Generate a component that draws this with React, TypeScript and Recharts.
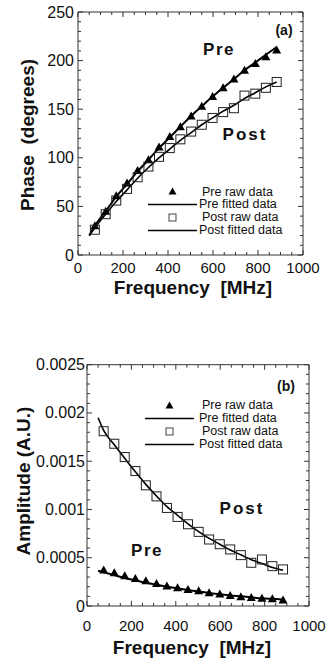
import React from "react";
import { ComposedChart, Line, XAxis, YAxis, Legend } from "recharts";

const FONT = "'Liberation Sans', Arial, Helvetica, sans-serif";

// frequencies (MHz) of the measured points and of the fitted curves
const freqRaw = [75, 123, 170, 218, 265, 313, 360, 408, 455, 503, 550, 598, 645, 693, 740, 788, 835, 883];
const freqFit = [50, 75, 123, 170, 218, 265, 313, 360, 408, 455, 503, 550, 598, 645, 693, 740, 788, 835, 883];

// (a) phase in degrees
const phasePreRaw = [30, 45, 61, 74, 87, 98, 111, 122, 132, 143, 153, 163, 172, 181, 190, 197, 204, 211];
const phasePostRaw = [26, 42, 56, 68, 80, 91, 101, 110, 119, 127, 134, 141, 147, 151, 164, 166, 172, 178];
const phasePreFit = [20, 30, 45, 60, 73, 86, 98, 110, 121, 132, 143, 153, 163, 172, 181, 190, 198, 206, 214];
const phasePostFit = [20, 28, 42, 55, 67, 79, 90, 100, 109, 118, 126, 134, 141, 148, 154, 161, 167, 173, 178];

// (b) amplitude in A.U.
const ampPreRaw = [0.000372, 0.000344, 0.000313, 0.000286, 0.000262, 0.000234, 0.000207, 0.000189, 0.000172, 0.000158, 0.000138, 0.000124, 0.00011, 0.000096, 0.000089, 0.000079, 0.000076, 0.000062];
const ampPostRaw = [0.001811, 0.001681, 0.001543, 0.001398, 0.00125, 0.001136, 0.001016, 0.000923, 0.000847, 0.000768, 0.000689, 0.00064, 0.000586, 0.000527, 0.000448, 0.000482, 0.000413, 0.000379];
const ampPreFit = [0.000365, 0.00035, 0.00032, 0.00029, 0.000265, 0.00024, 0.00022, 0.0002, 0.000182, 0.000165, 0.00015, 0.000135, 0.000122, 0.00011, 0.0001, 0.00009, 0.00008, 0.000074, 0.000068];
const ampPostFit = [0.00195, 0.00182, 0.00167, 0.00153, 0.00139, 0.00126, 0.00114, 0.00103, 0.00094, 0.00085, 0.00077, 0.0007, 0.00064, 0.00058, 0.00053, 0.00048, 0.00044, 0.0004, 0.00037];

// tick labels
const freqMajor = [0, 200, 400, 600, 800, 1000];
const freqLabels = ["0", "200", "400", "600", "800", "1000"];
const phaseMajor = [0, 50, 100, 150, 200, 250];
const phaseLabels = ["0", "50", "100", "150", "200", "250"];
const ampMajor = [0, 0.0005, 0.001, 0.0015, 0.002, 0.0025];
const ampLabels = ["0", "0.0005", "0.001", "0.0015", "0.002", "0.0025"];

const legendItems = ["Pre raw data", "Pre fitted data", "Post raw data", "Post fitted data"];

// minor tick positions (every 50 MHz, 10 deg, 0.0001 A.U.)
const freqTicks = Array.from({ length: 21 }, (_, i) => i * 50);
const phaseTicks = Array.from({ length: 26 }, (_, i) => i * 10);
const ampTicks = Array.from({ length: 26 }, (_, i) => i / 10000);

const rows = (xs: number[], ys: number[]) => xs.map((f, i) => ({ f, v: ys[i] }));

const FRAME = "#333";

function makeTick(side: string, majors: number[], labels?: string[], labelOffset = 0, fontSize = 15) {
  return (props: any) => {
    const { x, y, payload } = props;
    const v = payload.value;
    const idx = majors.findIndex((m) => Math.abs(m - v) < 1e-9);
    const len = idx >= 0 ? 5 : 3;
    let line = null;
    let label = null;
    if (side === "bottom") {
      line = <line x1={x} y1={y} x2={x} y2={y - len} stroke={FRAME} />;
      if (labels && idx >= 0)
        label = (
          <text x={x} y={y + labelOffset} textAnchor="middle" dominantBaseline="central" fontSize={fontSize} fontFamily={FONT} fill="#111">
            {labels[idx]}
          </text>
        );
    } else if (side === "top") {
      line = <line x1={x} y1={y} x2={x} y2={y + len} stroke={FRAME} />;
    } else if (side === "left") {
      line = <line x1={x} y1={y} x2={x + len} y2={y} stroke={FRAME} />;
      if (labels && idx >= 0)
        label = (
          <text x={x - labelOffset} y={y} textAnchor="end" dominantBaseline="central" fontSize={fontSize} fontFamily={FONT} fill="#111">
            {labels[idx]}
          </text>
        );
    } else {
      line = <line x1={x} y1={y} x2={x - len} y2={y} stroke={FRAME} />;
    }
    return (
      <g>
        {line}
        {label}
      </g>
    );
  };
}

const renderTri = (p: any) => {
  const { cx, cy } = p;
  if (cx == null || cy == null) return <g key={p.index} />;
  return <polygon key={p.index} points={`${cx},${cy - 4.5} ${cx - 4.5},${cy + 3.5} ${cx + 4.5},${cy + 3.5}`} fill="#000" />;
};

const renderSquare = (p: any) => {
  const { cx, cy } = p;
  if (cx == null || cy == null) return <g key={p.index} />;
  return <rect key={p.index} x={cx - 4.5} y={cy - 4.5} width={9} height={9} fill="none" stroke="#222" strokeWidth={1} />;
};

function LegendBox({ rowH, textGap }: { rowH: number; textGap: number }) {
  const marker = (i: number) => {
    if (i === 0) return <polygon points="24.5,2.5 20.5,9.5 28.5,9.5" fill="#000" />;
    if (i === 2) return <rect x={21} y={3} width={7} height={7} fill="#fff" stroke="#444" />;
    return <line x1={0} y1={6.5} x2={49} y2={6.5} stroke="#000" strokeWidth={1.5} />;
  };
  return (
    <div style={{ fontFamily: FONT, fontSize: 12.5, color: "#111" }}>
      {legendItems.map((t, i) => (
        <div key={t} style={{ display: "flex", alignItems: "center", height: rowH, whiteSpace: "nowrap" }}>
          <svg width={49} height={13} style={{ flex: "none" }}>
            {marker(i)}
          </svg>
          <span style={{ marginLeft: i % 2 === 0 ? textGap + 3 : textGap, lineHeight: `${rowH}px` }}>{t}</span>
        </div>
      ))}
    </div>
  );
}

const txt = (s: string, left: number, top: number, size: number, extra: any = {}) => (
  <div
    style={{
      position: "absolute",
      left,
      top,
      transform: "translate(-50%, -50%)",
      fontFamily: FONT,
      fontWeight: "bold",
      fontSize: size,
      whiteSpace: "pre",
      color: "#111",
      lineHeight: 1,
      ...extra,
    }}
  >
    {s}
  </div>
);

// axes get 1px of size so that recharts draws them; ticks sit on the plot edge
const axisCommon = { type: "number" as const, interval: 0 as const, tickSize: 0, tickMargin: 0, tickLine: false, axisLine: { stroke: FRAME } };

export default function App() {
  return (
    <div style={{ position: "absolute", left: 0, top: 0, width: 327, height: 659, background: "#fff", overflow: "hidden" }}>
      {/* (a) phase */}
      <div style={{ position: "absolute", left: 0, top: 0 }}>
        <ComposedChart width={327} height={320} margin={{ top: 11, right: 23, bottom: 64, left: 77 }}>
          <XAxis {...axisCommon} dataKey="f" domain={[0, 1000]} ticks={freqTicks} height={1} tick={makeTick("bottom", freqMajor, freqLabels, 12.5, 15)} />
          <XAxis {...axisCommon} xAxisId="top" orientation="top" dataKey="f" domain={[0, 1000]} ticks={freqTicks} height={1} tick={makeTick("top", freqMajor)} />
          <YAxis {...axisCommon} domain={[0, 250]} ticks={phaseTicks} width={1} tick={makeTick("left", phaseMajor, phaseLabels, 4, 16)} />
          <YAxis {...axisCommon} yAxisId="right" orientation="right" domain={[0, 250]} ticks={phaseTicks} width={1} tick={makeTick("right", phaseMajor)} />
          <Legend layout="horizontal" verticalAlign="middle" align="center" content={() => <LegendBox rowH={12.7} textGap={2} />} wrapperStyle={{ position: "absolute", left: 148, top: 185.6, width: 170 }} />
          <Line data={rows(freqFit, phasePreFit)} dataKey="v" type="monotone" stroke="#000" strokeWidth={2} dot={false} activeDot={false} isAnimationActive={false} />
          <Line data={rows(freqRaw, phasePreRaw)} dataKey="v" stroke="none" dot={renderTri} activeDot={false} isAnimationActive={false} />
          <Line xAxisId="top" yAxisId="right" data={rows(freqFit, phasePostFit)} dataKey="v" type="monotone" stroke="#000" strokeWidth={1.6} dot={false} activeDot={false} isAnimationActive={false} />
          <Line xAxisId="top" yAxisId="right" data={rows(freqRaw, phasePostRaw)} dataKey="v" stroke="none" dot={renderSquare} activeDot={false} isAnimationActive={false} />
        </ComposedChart>
      </div>
      {txt("(a)", 284, 30, 14)}
      {txt("Pre", 219, 49, 17, { letterSpacing: 1.5 })}
      {txt("Post", 245, 134, 17, { letterSpacing: 2 })}
      {txt("Frequency  [MHz]", 193, 287, 19)}
      {txt("Phase  (degrees)", 27, 135, 19, { transform: "translate(-50%, -50%) rotate(-90deg)" })}

      {/* (b) amplitude */}
      <div style={{ position: "absolute", left: 0, top: 330 }}>
        <ComposedChart width={327} height={329} margin={{ top: 33.7, right: 17, bottom: 52, left: 86 }}>
          <XAxis {...axisCommon} dataKey="f" domain={[0, 1000]} ticks={freqTicks} height={1} tick={makeTick("bottom", freqMajor, freqLabels, 19, 15)} />
          <XAxis {...axisCommon} xAxisId="top" orientation="top" dataKey="f" domain={[0, 1000]} ticks={freqTicks} height={1} tick={makeTick("top", freqMajor)} />
          <YAxis {...axisCommon} domain={[0, 0.0025]} ticks={ampTicks} width={1} tick={makeTick("left", ampMajor, ampLabels, 2, 16)} />
          <YAxis {...axisCommon} yAxisId="right" orientation="right" domain={[0, 0.0025]} ticks={ampTicks} width={1} tick={makeTick("right", ampMajor)} />
          <Legend layout="horizontal" verticalAlign="middle" align="center" content={() => <LegendBox rowH={13} textGap={5} />} wrapperStyle={{ position: "absolute", left: 145, top: 68.5, width: 175 }} />
          <Line data={rows(freqFit, ampPreFit)} dataKey="v" type="monotone" stroke="#000" strokeWidth={2} dot={false} activeDot={false} isAnimationActive={false} />
          <Line data={rows(freqRaw, ampPreRaw)} dataKey="v" stroke="none" dot={renderTri} activeDot={false} isAnimationActive={false} />
          <Line xAxisId="top" yAxisId="right" data={rows(freqFit, ampPostFit)} dataKey="v" type="monotone" stroke="#000" strokeWidth={1.6} dot={false} activeDot={false} isAnimationActive={false} />
          <Line xAxisId="top" yAxisId="right" data={rows(freqRaw, ampPostRaw)} dataKey="v" stroke="none" dot={renderSquare} activeDot={false} isAnimationActive={false} />
        </ComposedChart>
      </div>
      {txt("(b)", 286, 386, 14)}
      {txt("Post", 242, 508, 17, { letterSpacing: 2 })}
      {txt("Pre", 147, 550, 17, { letterSpacing: 1.5 })}
      {txt("Frequency  [MHz]", 192, 647, 19)}
      {txt("Amplitude (A.U.)", 23, 481, 19, { transform: "translate(-50%, -50%) rotate(-90deg)" })}
    </div>
  );
}
